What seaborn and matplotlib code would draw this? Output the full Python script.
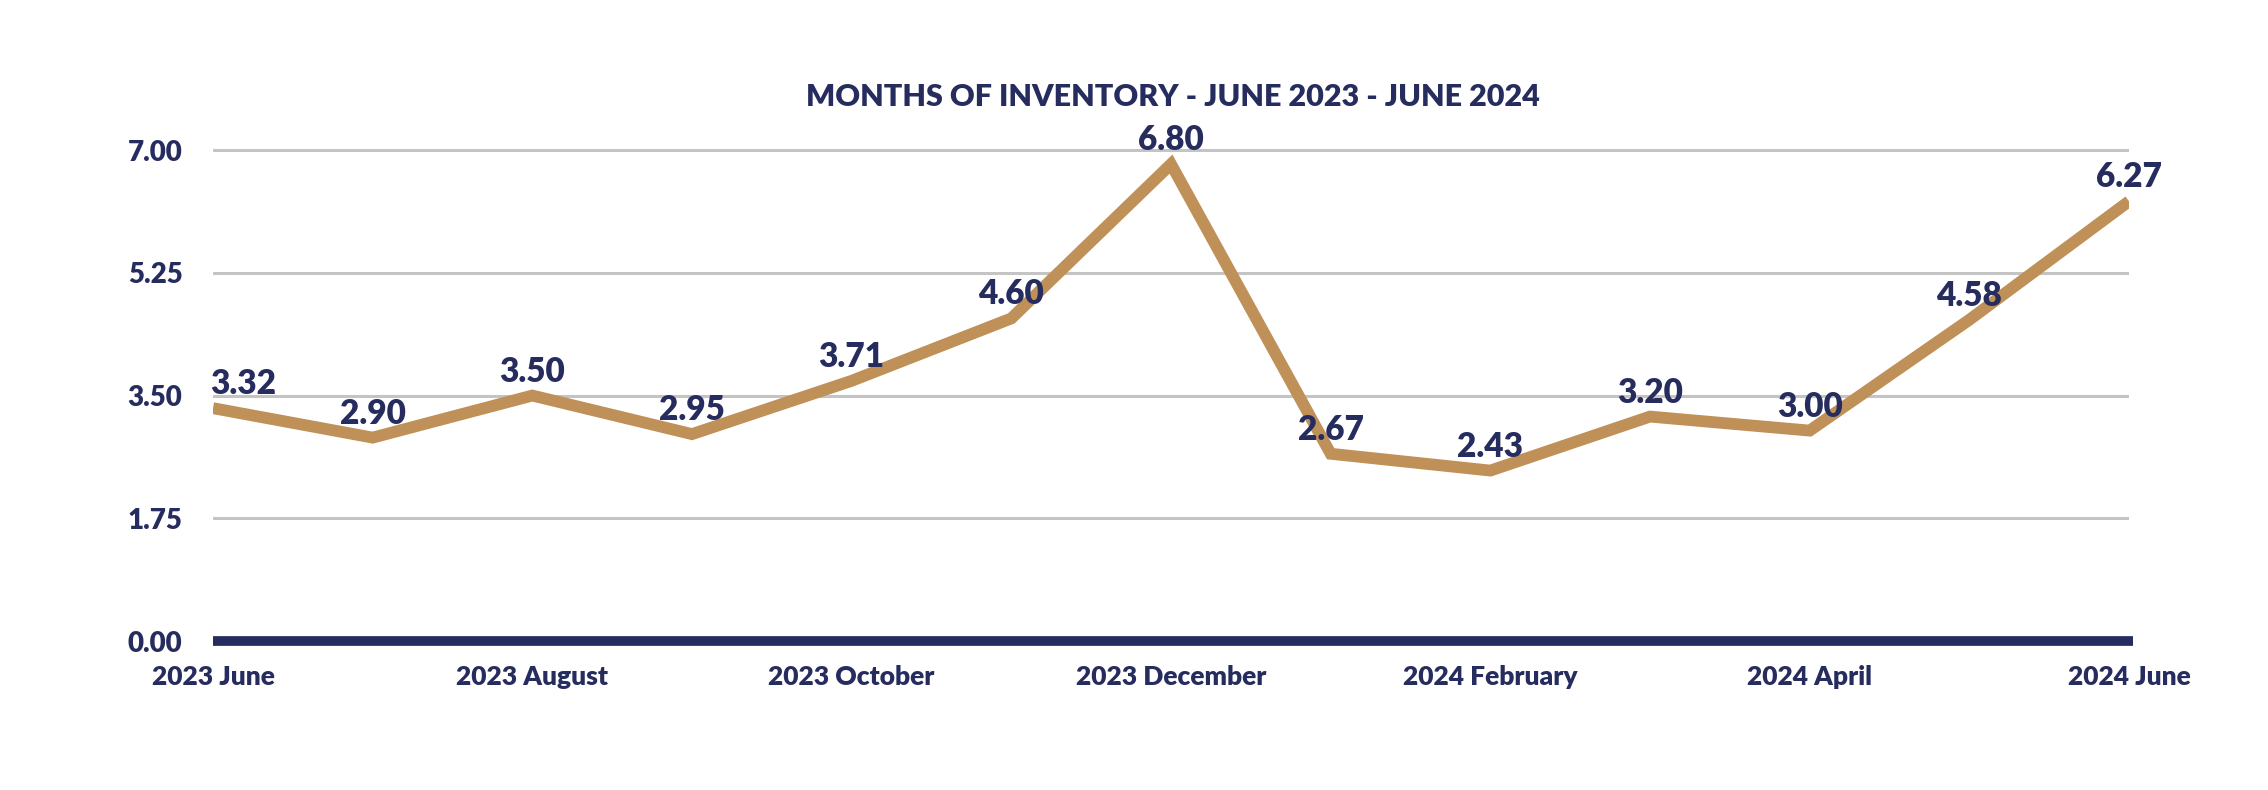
import pandas as pd
import matplotlib.pyplot as plt
import seaborn as sns

NAVY = "#262c5e"
GOLD = "#bf9058"
GRID = "#c4c4c4"

months = [
    "2023 June", "2023 July", "2023 August", "2023 September", "2023 October",
    "2023 November", "2023 December", "2024 January", "2024 February",
    "2024 March", "2024 April", "2024 May", "2024 June",
]
inventory = [3.32, 2.90, 3.50, 2.95, 3.71, 4.60, 6.80, 2.67, 2.43, 3.20, 3.00, 4.58, 6.27]
y_ticks = [0.00, 1.75, 3.50, 5.25, 7.00]
title = "MONTHS OF INVENTORY - JUNE 2023 - JUNE 2024"


def main() -> None:
    df = pd.DataFrame({"month": months, "value": inventory})
    df["pos"] = range(len(df))

    sns.set_style("white")
    plt.rcParams["font.family"] = ["Lato", "DejaVu Sans"]

    fig = plt.figure(figsize=(22.68, 7.9), dpi=100)
    ax = fig.add_axes([213 / 2268, 149 / 790, (2129 - 213) / 2268, 540 / 790])

    for t in y_ticks[1:]:
        ax.axhline(t, color=GRID, lw=2.2, zorder=1)
    ax.axhline(0, color=NAVY, lw=7, zorder=2, solid_capstyle="butt",
               xmax=1.002, clip_on=False)

    sns.lineplot(data=df, x="pos", y="value", color=GOLD, lw=8.5, ax=ax,
                 zorder=3, solid_capstyle="butt", solid_joinstyle="miter")

    for i, (x, y) in enumerate(zip(df["pos"], df["value"])):
        dx = 30 if i == 0 else 0
        ax.annotate(f"{y:.2f}", (x, y), xytext=(dx, 24), textcoords="offset pixels",
                    ha="center", va="center", fontsize=24, fontweight="heavy",
                    color=NAVY, zorder=4)

    ax.set_xlim(0, len(months) - 1)
    ax.set_ylim(0, 7.7)
    ax.set_yticks(y_ticks)
    ax.set_yticklabels([f"{t:.2f}" for t in y_ticks])
    ax.set_xticks(df["pos"][::2])
    ax.set_xticklabels(df["month"][::2])
    ax.tick_params(axis="y", length=0, pad=22, labelsize=20, labelcolor=NAVY)
    ax.tick_params(axis="x", length=0, pad=17, labelsize=19, labelcolor=NAVY)
    for lab in ax.get_xticklabels() + ax.get_yticklabels():
        lab.set_fontweight("heavy")
    ax.set_xlabel("")
    ax.set_ylabel("")
    sns.despine(ax=ax, left=True, bottom=True)

    fig.text(1173 / 2268, 1 - 97 / 790, title, ha="center", va="center",
             fontsize=22, fontweight="heavy", color=NAVY)

    fig.savefig("out.png", dpi=100, facecolor="white")


if __name__ == "__main__":
    main()
